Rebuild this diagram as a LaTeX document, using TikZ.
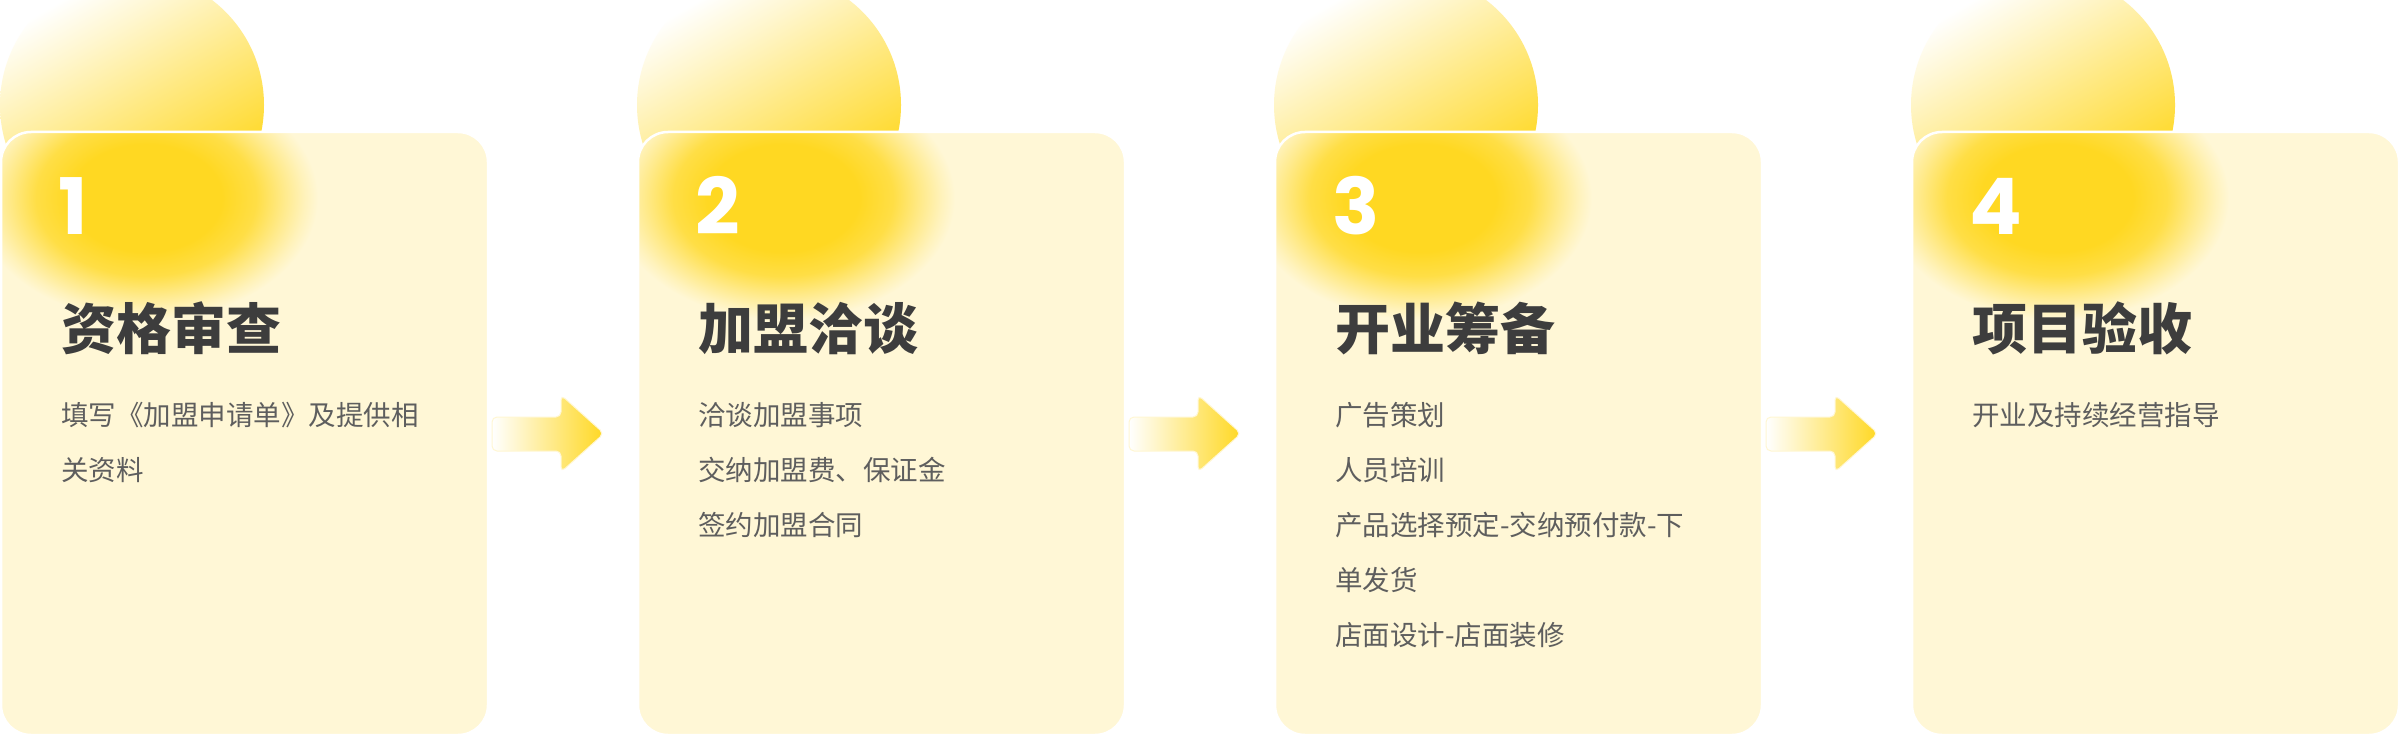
\documentclass[tikz,border=0pt]{standalone}
\usepackage{fontspec}
\newfontfamily\cjk{Noto Sans CJK SC}
\newfontfamily\numfont{Poppins}
\definecolor{cream}{HTML}{FFF7D6}
\definecolor{gold}{HTML}{FFD822}
\definecolor{titlec}{HTML}{3D3D3D}
\definecolor{bodyc}{HTML}{5E5E5E}
\colorlet{goldA}{gold!80!cream}
\colorlet{goldB}{gold!42!cream}
\colorlet{goldC}{gold!15!cream}
\colorlet{goldlight}{gold!55!white}
\colorlet{goldpale}{gold!22!white}
\colorlet{arrowmid}{gold!45!white}
\pgfdeclareradialshading{glowshade}{\pgfpoint{0bp}{0bp}}{color(0bp)=(gold); color(11bp)=(gold); color(16bp)=(goldA); color(20bp)=(goldB); color(23bp)=(goldC); color(25bp)=(cream); color(50bp)=(cream)}
\pgfdeclareverticalshading{circshade}{100bp}{color(0bp)=(gold); color(30bp)=(gold); color(50bp)=(goldlight); color(64bp)=(goldpale); color(74bp)=(white); color(100bp)=(white)}
\begin{document}
\begin{tikzpicture}[x=1pt,y=-1pt,
  cardshape/.style={rounded corners=30pt},
  digitstyle/.style={anchor=base west, inner sep=0pt, text=white, font=\numfont\bfseries\fontsize{78}{78}\selectfont},
  titlestyle/.style={anchor=base west, inner sep=0pt, text=titlec, font=\cjk\bfseries\fontsize{55}{55}\selectfont},
  bodystyle/.style={anchor=base west, inner sep=0pt, text=bodyc, font=\cjk\fontsize{27.5}{27.5}\selectfont},
  arrowshape/.style={left color=white, middle color=arrowmid, right color=gold, draw=gold!20!white, line width=1pt, rounded corners=5pt}]
\useasboundingbox (0,0) rectangle (2400,738);
\fill[white] (0,0) rectangle (2400,738);
% cards
\foreach \i in {0,1,2,3} {
  \pgfmathsetmacro\L{1+637*\i}
  \coordinate (card\i) at (\L,132);
  \shade[shading=circshade, shading angle=30] (\L+131,105) circle[radius=132];
  \fill[cream, cardshape] (card\i) rectangle +(487,603);
  \begin{scope}
    \clip[cardshape] (card\i) rectangle +(487,603);
    \shade[shading=glowshade] (\L+145,198) ellipse[x radius=172, y radius=122];
  \end{scope}
  \draw[white, line width=2.5pt, cardshape] (card\i) rectangle +(487,603);
}
% arrows
\foreach \i in {0,1,2} {
  \pgfmathsetmacro\A{492+637*\i}
  \coordinate (arr\i) at (\A,417);
  \shade[arrowshape] (arr\i) -- ++(69,0) -- ++(0,-22) -- ++(43,38.5) -- ++(-43,38.5) -- ++(0,-21) -- ++(-69,0) -- cycle;
}
% card 1
\node[digitstyle] (n1) at (58,234) {1};
\node[titlestyle] (t1) at (61,349) {资格审查};
\node[bodystyle] (b11) at (61,425) {填写《加盟申请单》及提供相};
\node[bodystyle] (b12) at (61,480) {关资料};
% card 2
\node[digitstyle] (n2) at (695,234) {2};
\node[titlestyle] (t2) at (698,349) {加盟洽谈};
\node[bodystyle] (b21) at (698,425) {洽谈加盟事项};
\node[bodystyle] (b22) at (698,480) {交纳加盟费、保证金};
\node[bodystyle] (b23) at (698,535) {签约加盟合同};
% card 3
\node[digitstyle] (n3) at (1332,234) {3};
\node[titlestyle] (t3) at (1335,349) {开业筹备};
\node[bodystyle] (b31) at (1335,425) {广告策划};
\node[bodystyle] (b32) at (1335,480) {人员培训};
\node[bodystyle] (b33) at (1335,535) {产品选择预定-交纳预付款-下};
\node[bodystyle] (b34) at (1335,590) {单发货};
\node[bodystyle] (b35) at (1335,645) {店面设计-店面装修};
% card 4
\node[digitstyle] (n4) at (1969,234) {4};
\node[titlestyle] (t4) at (1972,349) {项目验收};
\node[bodystyle] (b41) at (1972,425) {开业及持续经营指导};
\end{tikzpicture}
\end{document}
